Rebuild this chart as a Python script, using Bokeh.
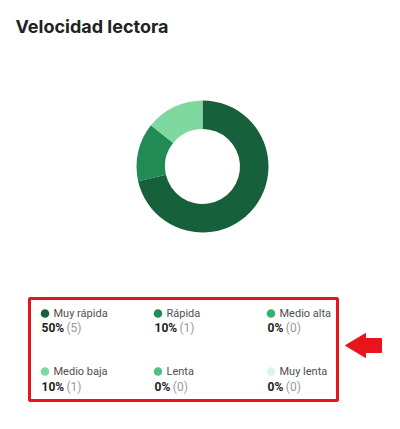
import math
from bokeh.plotting import figure
from bokeh.models import Range1d, ColumnDataSource
from bokeh.core.properties import value
from bokeh.embed import file_html
from bokeh.resources import INLINE

# ---- data ----
title = "Velocidad lectora"
categories = ["Muy rápida", "Rápida", "Medio alta", "Medio baja", "Lenta", "Muy lenta"]
counts = [5, 1, 0, 1, 0, 0]
percents = [50, 10, 0, 10, 0, 0]
colors = ["#17603c", "#218a55", "#35b26b", "#7fd8a0", "#4dc17f", "#d8f6e2"]

W, H = 400, 429
def Y(py):  # page y -> data y
    return H - py
def X(px):
    return px

p = figure(width=W, height=H, output_backend="svg", toolbar_location=None,
           x_range=Range1d(0, W), y_range=Range1d(0, H),
           x_axis_type=None, y_axis_type=None, min_border=0)
p.outline_line_color = None
p.xgrid.visible = False
p.ygrid.visible = False
p.background_fill_color = "white"

# title
p.text(x=[X(15)], y=[Y(26)], text=[title], text_font=value("Inter"),
       text_font_style="bold", text_font_size="18px", text_color="#222222",
       text_baseline="middle", text_align="left")

# donut (only non-zero slices)
total = sum(counts)
starts, ends, wcols = [], [], []
acc = 0.0
for c, col in zip(counts, colors):
    a0 = math.pi / 2 - 2 * math.pi * acc / total
    acc += c
    a1 = math.pi / 2 - 2 * math.pi * acc / total
    if c > 0:
        starts.append(a0)
        ends.append(a1)
        wcols.append(col)
src = ColumnDataSource(dict(start=starts, end=ends, color=wcols))
p.annular_wedge(x=X(202), y=Y(166), inner_radius=37.5, outer_radius=66,
                start_angle="start", end_angle="end", direction="clock",
                fill_color="color", line_color=None, source=src)

# legend grid
col_x = [41, 154, 267]
row_label_y = [313, 371]
row_val_y = [327, 386]
dx, dy, lx, ly, vx, vy, px_, pt = [], [], [], [], [], [], [], []
for i, cat in enumerate(categories):
    r, c = divmod(i, 3)
    cx = col_x[c]
    dx.append(X(cx + 3.5)); dy.append(Y(row_label_y[r]))
    lx.append(X(cx + 12)); ly.append(Y(row_label_y[r]))
    vx.append(X(cx)); vy.append(Y(row_val_y[r]))
    s = f"{percents[i]}%"
    w = 6.7 * (len(s) - 1) + 8.6
    px_.append(X(cx + w + 3)); pt.append(f"({counts[i]})")

p.scatter(x=dx, y=dy, size=8.5, fill_color=colors, line_color=None)
p.text(x=lx, y=ly, text=categories, text_font=value("Roboto"), text_font_size="11px",
       text_color="#4f4f4f", text_baseline="middle", text_align="left")
p.text(x=vx, y=vy, text=[f"{v}%" for v in percents], text_font=value("Roboto"),
       text_font_style="bold", text_font_size="12px", text_color="#222222",
       text_baseline="middle", text_align="left")
p.text(x=px_, y=vy, text=pt, text_font=value("Roboto"), text_font_size="12px",
       text_color="#9a9a9a", text_baseline="middle", text_align="left")

# red highlight box and arrow
p.quad(left=X(29), right=X(337), top=Y(298), bottom=Y(400),
       fill_color=None, line_color="#e8141c", line_width=3)
p.patch(x=[X(345), X(365), X(365), X(381), X(381), X(365), X(365)],
        y=[Y(345), Y(333), Y(338), Y(338), Y(352), Y(352), Y(357)],
        fill_color="#e8141c", line_color="#e8141c", line_width=1)

open("out.html", "w").write(file_html(p, INLINE))
